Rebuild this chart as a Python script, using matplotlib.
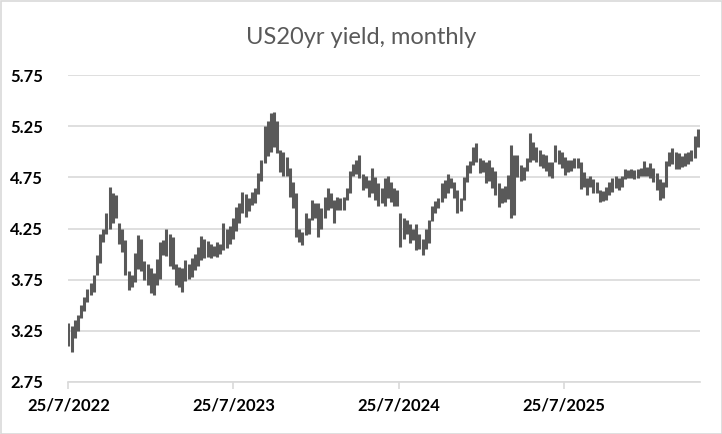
import numpy as np
import pandas as pd
import matplotlib
matplotlib.use("Agg")
import matplotlib.pyplot as plt
import matplotlib.dates as mdates
from matplotlib.patches import Rectangle

# weekly high / low of the US 20yr yield
highs = [3.33, 3.30, 3.36, 3.40, 3.50, 3.58, 3.66, 3.72, 3.80, 3.99,
         4.20, 4.25, 4.40, 4.66, 4.60, 4.58, 4.30, 4.25, 4.14, 3.83,
         3.80, 4.01, 4.19, 4.15, 3.93, 3.90, 3.86, 3.82, 3.95, 4.12,
         4.14, 4.25, 4.20, 4.17, 3.90, 3.87, 3.86, 3.94, 3.90, 3.96,
         4.00, 4.07, 4.18, 4.15, 4.13, 4.10, 4.08, 4.12, 4.10, 4.30,
         4.25, 4.27, 4.35, 4.46, 4.50, 4.61, 4.59, 4.55, 4.61, 4.65,
         4.79, 4.92, 5.25, 5.30, 5.38, 5.39, 5.30, 5.02, 5.00, 4.95,
         4.84, 4.70, 4.60, 4.25, 4.22, 4.40, 4.35, 4.53, 4.50, 4.50,
         4.45, 4.56, 4.65, 4.60, 4.53, 4.56, 4.55, 4.56, 4.65, 4.81,
         4.88, 4.92, 4.97, 4.78, 4.76, 4.72, 4.84, 4.75, 4.69, 4.65,
         4.74, 4.76, 4.70, 4.65, 4.63, 4.40, 4.35, 4.33, 4.29, 4.25,
         4.29, 4.20, 4.15, 4.25, 4.33, 4.47, 4.52, 4.55, 4.69, 4.72,
         4.78, 4.74, 4.70, 4.63, 4.55, 4.75, 4.87, 4.91, 5.05, 5.09,
         4.94, 4.92, 4.90, 4.92, 4.85, 4.81, 4.69, 4.65, 4.67, 4.77,
         5.07, 4.97, 4.97, 4.87, 4.85, 4.94, 5.18, 5.10, 5.05, 5.02,
         4.98, 4.97, 4.90, 4.90, 5.07, 5.02, 5.00, 4.95, 4.92, 4.92,
         4.94, 4.94, 4.90, 4.80, 4.74, 4.76, 4.73, 4.70, 4.63, 4.62,
         4.66, 4.70, 4.74, 4.76, 4.74, 4.76, 4.83, 4.82, 4.83, 4.82,
         4.83, 4.84, 4.91, 4.85, 4.89, 4.84, 4.79, 4.73, 4.70, 4.91,
         5.00, 5.04, 5.00, 4.99, 4.96, 4.99, 5.00, 5.02, 5.15, 5.22]
lows = [3.10, 3.04, 3.18, 3.25, 3.38, 3.44, 3.53, 3.60, 3.63, 3.80,
        3.91, 4.12, 4.20, 4.25, 4.30, 4.35, 4.10, 4.02, 3.80, 3.65,
        3.68, 3.73, 3.85, 3.83, 3.75, 3.70, 3.62, 3.60, 3.70, 3.76,
        3.99, 3.98, 3.88, 3.85, 3.70, 3.68, 3.63, 3.74, 3.76, 3.78,
        3.84, 3.88, 3.94, 3.96, 3.97, 3.96, 3.98, 3.97, 4.00, 4.04,
        4.06, 4.10, 4.15, 4.23, 4.30, 4.40, 4.36, 4.42, 4.48, 4.50,
        4.59, 4.71, 4.89, 4.96, 5.00, 5.05, 4.99, 4.80, 4.76, 4.76,
        4.56, 4.45, 4.17, 4.12, 4.09, 4.19, 4.20, 4.33, 4.35, 4.17,
        4.25, 4.35, 4.43, 4.45, 4.30, 4.43, 4.43, 4.43, 4.53, 4.60,
        4.76, 4.78, 4.74, 4.63, 4.65, 4.56, 4.60, 4.53, 4.47, 4.50,
        4.47, 4.55, 4.51, 4.47, 4.47, 4.07, 4.15, 4.20, 4.11, 4.14,
        4.04, 4.05, 3.99, 4.05, 4.11, 4.32, 4.40, 4.45, 4.51, 4.55,
        4.60, 4.65, 4.55, 4.40, 4.42, 4.53, 4.70, 4.79, 4.87, 4.90,
        4.79, 4.80, 4.69, 4.71, 4.65, 4.58, 4.46, 4.50, 4.51, 4.54,
        4.35, 4.38, 4.75, 4.71, 4.72, 4.81, 4.90, 4.92, 4.90, 4.86,
        4.84, 4.81, 4.76, 4.74, 4.90, 4.88, 4.84, 4.77, 4.80, 4.81,
        4.84, 4.84, 4.64, 4.66, 4.58, 4.66, 4.60, 4.60, 4.51, 4.52,
        4.53, 4.58, 4.61, 4.65, 4.63, 4.66, 4.73, 4.74, 4.74, 4.73,
        4.74, 4.76, 4.76, 4.76, 4.74, 4.70, 4.63, 4.53, 4.55, 4.66,
        4.86, 4.88, 4.83, 4.83, 4.85, 4.86, 4.88, 4.91, 4.94, 5.05]
start_date = "2022-07-25"
tick_dates = ["2022-07-25", "2023-07-25", "2024-07-25", "2025-07-25"]
y_ticks = [2.75, 3.25, 3.75, 4.25, 4.75, 5.25, 5.75]

dates = pd.date_range(start_date, periods=len(highs), freq="7D")

fig = plt.figure(figsize=(7.22, 4.34), dpi=100)
ax = fig.add_axes([68 / 722, 52 / 434, 632 / 722, 307 / 434])

ax.vlines(dates, lows, highs, color="#595959", linewidth=2.2, zorder=3)

ax.set_ylim(2.75, 5.75)
ax.set_yticks(y_ticks)
ax.set_yticklabels(["%.2f" % v for v in y_ticks])
d0 = pd.Timestamp(start_date)
ax.set_xlim(d0 - pd.Timedelta(days=1), d0 + pd.Timedelta(days=1398))
ticks = [pd.Timestamp(t) for t in tick_dates]
ax.set_xticks(ticks)
ax.set_xticklabels(["%d/%d/%d" % (t.day, t.month, t.year) for t in ticks])

ax.grid(axis="y", color="#D9D9D9", linewidth=1.2, zorder=0)
for s in ["top", "right", "left"]:
    ax.spines[s].set_visible(False)
ax.spines["bottom"].set_color("#D9D9D9")
ax.spines["bottom"].set_linewidth(1.2)
ax.tick_params(axis="y", length=0, pad=18)
ax.tick_params(axis="x", length=5, width=1.2, color="#D9D9D9", pad=6)
for lab in ax.get_xticklabels() + ax.get_yticklabels():
    lab.set_fontfamily("Lato")
    lab.set_fontweight("bold")
    lab.set_fontsize(12)
    lab.set_color("black")

fig.text(0.5, 1 - 37 / 434, "US20yr yield, monthly", ha="center", va="center",
         fontsize=17, color="#595959", fontfamily="Lato")
fig.patches.append(Rectangle((0.5 / 722, 0.5 / 434), 721 / 722, 433 / 434,
                             transform=fig.transFigure, fill=False,
                             edgecolor="#D9D9D9", linewidth=1.2))

fig.savefig("out.png", dpi=100)
